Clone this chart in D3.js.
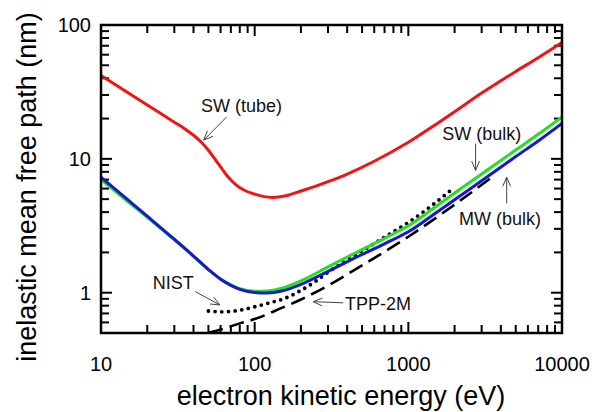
<!DOCTYPE html>
<html>
<head>
<meta charset="utf-8">
<script src="https://cdnjs.cloudflare.com/ajax/libs/d3/7.8.5/d3.min.js"></script>
<style>
  body { margin: 0; background: #fff; }
  svg { font-family: "Liberation Sans", Arial, sans-serif; }
</style>
</head>
<body>
<svg id="vis" width="611" height="412"></svg>
<script>
// energies (eV) and IMFP values (nm)
var tube_E = [10, 20, 30, 35, 40, 45, 50, 55, 60, 67, 75, 85, 100, 115, 130, 160, 200, 250, 300, 400, 600, 1000, 1500, 2000, 3000, 5000, 7000, 10000];
var tube_v = [42, 25.3, 18.8, 16.8, 15.0, 13.3, 11.6, 10.0, 8.7, 7.35, 6.45, 5.85, 5.45, 5.22, 5.15, 5.3, 5.75, 6.25, 6.75, 7.7, 9.6, 13.3, 18, 22.5, 31, 45, 57, 74];

var bulk_E = [10, 15, 20, 30, 40, 50, 60, 70, 80, 100, 120, 150, 200, 300, 500, 700, 1000, 1500, 2000, 3000, 5000, 7000, 10000];
var mw_v = [7.3, 4.93, 3.73, 2.51, 1.88, 1.49, 1.26, 1.135, 1.06, 1.005, 0.996, 1.03, 1.155, 1.443, 1.93, 2.32, 2.85, 3.92, 4.95, 6.85, 10.4, 13.6, 18.4];
var sw_v = [7.0, 4.78, 3.66, 2.48, 1.87, 1.49, 1.265, 1.145, 1.07, 1.025, 1.03, 1.08, 1.225, 1.56, 2.1, 2.55, 3.16, 4.38, 5.55, 7.7, 11.65, 15.25, 20.6];

var nist_E = [50, 60, 70, 80, 100, 130, 150, 200, 250, 300, 500, 700, 1000, 1500, 1900];
var nist_v = [0.73, 0.72, 0.725, 0.74, 0.785, 0.85, 0.89, 1.04, 1.22, 1.42, 2.05, 2.6, 3.35, 4.7, 5.85];

var tpp_E = [50, 60, 80, 100, 150, 200, 300, 500, 1000, 2000, 3500];
var tpp_v = [0.5, 0.53, 0.59, 0.635, 0.77, 0.89, 1.13, 1.6, 2.62, 4.55, 7.3];

var x_ticks = [10, 100, 1000, 10000];
var y_ticks = [1, 10, 100];

// labels: text anchor point and arrow (from -> to), in data units
var notes = [
    {text: "SW (tube)", E: 82, v: 25.2, anchor: "middle", a: [65.8, 20.6, 46.6, 13.8]},
    {text: "SW (bulk)", E: 3000, v: 15.5, anchor: "middle", a: [2740, 13.0, 2740, 8.2]},
    {text: "MW (bulk)", E: 3945, v: 3.6, anchor: "middle", a: [4365, 4.65, 4365, 7.3]},
    {text: "NIST", E: 29.5, v: 1.19, anchor: "middle", a: [41, 1.02, 59.4, 0.81]},
    {text: "TPP-2M", E: 387, v: 0.83, anchor: "start", a: [377, 0.84, 240, 0.857]}
];

var svg = d3.select("#vis");
var margin = {top: 25, right: 49, bottom: 79, left: 101};
var width = 611 - margin.left - margin.right;
var height = 412 - margin.top - margin.bottom;

var x = d3.scaleLog().domain([10, 10000]).range([0, width]);
var y = d3.scaleLog().domain([0.5, 100]).range([height, 0]);

var g = svg.append("g").attr("transform", "translate(" + margin.left + "," + margin.top + ")");

g.append("clipPath").attr("id", "clip")
    .append("rect").attr("width", width).attr("height", height);

// minor and major tick values
var minorX = [], minorY = [];
[10, 100, 1000].forEach(function(d) {
    for (var k = 2; k <= 9; k++) minorX.push(d * k);
});
[0.1, 1, 10].forEach(function(d) {
    for (var k = 2; k <= 9; k++) if (d * k > 0.5 && d * k < 100) minorY.push(d * k);
});

var ticks = g.append("g").attr("stroke", "#000").attr("stroke-width", 2);
function tickLines(vals, len, horiz) {
    vals.forEach(function(d) {
        if (horiz) {
            var px = x(d);
            ticks.append("line").attr("x1", px).attr("x2", px).attr("y1", height).attr("y2", height - len);
            ticks.append("line").attr("x1", px).attr("x2", px).attr("y1", 0).attr("y2", len);
        } else {
            var py = y(d);
            ticks.append("line").attr("y1", py).attr("y2", py).attr("x1", 0).attr("x2", len);
            ticks.append("line").attr("y1", py).attr("y2", py).attr("x1", width).attr("x2", width - len);
        }
    });
}
tickLines(minorX, 8, true);
tickLines(x_ticks, 11, true);
tickLines(minorY, 8, false);
tickLines(y_ticks, 11, false);

// curves
var line = d3.line()
    .x(function(d) { return x(d[0]); })
    .y(function(d) { return y(d[1]); })
    .curve(d3.curveMonotoneX);

function series(E, v, color, w, dash, cap) {
    g.append("path")
        .datum(d3.zip(E, v))
        .attr("clip-path", "url(#clip)")
        .attr("fill", "none")
        .attr("stroke", color)
        .attr("stroke-width", w)
        .attr("stroke-dasharray", dash)
        .attr("stroke-linecap", cap)
        .attr("d", line);
}
series(tpp_E, tpp_v, "#000", 2.6, "15 7", "butt");
series(nist_E, nist_v, "#000", 3.8, "0 6.7", "round");
series(tube_E, tube_v, "#f01414", 3, null, "butt");
series(bulk_E, sw_v, "#22e022", 3, null, "butt");
series(bulk_E, mw_v, "#1818cc", 3, null, "butt");

// frame
g.append("rect").attr("width", width).attr("height", height)
    .attr("fill", "none").attr("stroke", "#000").attr("stroke-width", 2.5);

// tick labels
g.selectAll(".xl").data(x_ticks).enter().append("text")
    .attr("x", function(d) { return x(d); })
    .attr("y", height + 38)
    .attr("text-anchor", "middle")
    .attr("font-size", 20)
    .text(function(d) { return d; });

g.selectAll(".yl").data(y_ticks).enter().append("text")
    .attr("x", -10)
    .attr("y", function(d) { return y(d) + 7; })
    .attr("text-anchor", "end")
    .attr("font-size", 20)
    .text(function(d) { return d; });

// axis titles
svg.append("text")
    .attr("x", 341).attr("y", 405)
    .attr("text-anchor", "middle")
    .attr("font-size", 27)
    .text("electron kinetic energy (eV)");

svg.append("text")
    .attr("transform", "translate(36,187) rotate(-90)")
    .attr("text-anchor", "middle")
    .attr("font-size", 27)
    .text("inelastic mean free path (nm)");

// annotations
var ann = g.append("g");
notes.forEach(function(n) {
    ann.append("text")
        .attr("x", x(n.E)).attr("y", y(n.v) + 6.5)
        .attr("text-anchor", n.anchor)
        .attr("font-size", 18)
        .attr("fill", "#111")
        .text(n.text);
    var x1 = x(n.a[0]), y1 = y(n.a[1]), x2 = x(n.a[2]), y2 = y(n.a[3]);
    var ang = Math.atan2(y2 - y1, x2 - x1);
    var hl = 10, hw = 0.4;
    ann.append("path")
        .attr("fill", "none")
        .attr("stroke", "#444")
        .attr("stroke-width", 1)
        .attr("d", "M" + x1 + "," + y1 + "L" + x2 + "," + y2 +
            "M" + (x2 - hl * Math.cos(ang - hw)) + "," + (y2 - hl * Math.sin(ang - hw)) +
            "L" + x2 + "," + y2 +
            "L" + (x2 - hl * Math.cos(ang + hw)) + "," + (y2 - hl * Math.sin(ang + hw)));
});
</script>
</body>
</html>
